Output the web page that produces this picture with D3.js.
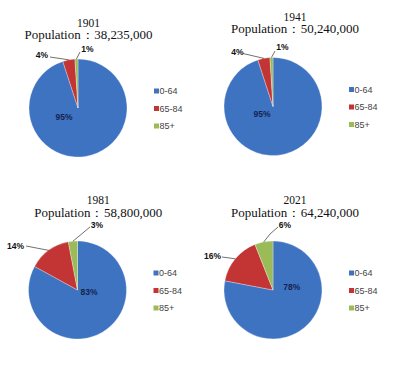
<!DOCTYPE html>
<html>
<head>
<meta charset="utf-8">
<script src="https://cdn.jsdelivr.net/npm/d3@7/dist/d3.min.js"></script>
<style>
  html, body { margin: 0; padding: 0; background: #fff; }
  svg { display: block; }
</style>
</head>
<body>
<svg id="chart" width="394" height="368"></svg>
<script>
// ---- data ----
const years = ["1901", "1941", "1981", "2021"];
const populations = ["38,235,000", "50,240,000", "58,800,000", "64,240,000"];
const ageGroups = ["0-64", "65-84", "85+"];
const share0to64 = [95, 95, 83, 78];
const share65to84 = [4, 4, 14, 16];
const share85plus = [1, 1, 3, 6];

// ---- layout / style ----
const colors = ["#3e73c1", "#c23534", "#9bbb59"];
const radius = 49;
const panels = [
  { cx: 78,    cy: 108,   titleX: 88.5, yearY: 26.5, popY: 39 },
  { cx: 273,   cy: 106.5, titleX: 295,  yearY: 20.5, popY: 33 },
  { cx: 77.5,  cy: 290,   titleX: 98.3, yearY: 204,  popY: 216.5 },
  { cx: 273,   cy: 290,   titleX: 295,  yearY: 203.5,popY: 216.5 }
];
// label placement relative to pie centre: [inner, red, green]
const labelLayout = [
  [ {t:[-14, 9]}, {t:[-36,-53], line:[[-28,-51]]}, {t:[9.5,-59], line:[[2,-56]]} ],
  [ {t:[-11, 7.5]}, {t:[-35.5,-54.5], line:[[-30,-53]]}, {t:[9.5,-59.5], line:[[2,-55.5]]} ],
  [ {t:[11.5, 2]}, {t:[-62,-44], line:[[-51.5,-44]]}, {t:[19.5,-65], line:[[12.5,-63]]} ],
  [ {t:[18.7,-3]}, {t:[-60.5,-34], line:[[-51,-33]]}, {t:[12,-65.3], line:[[-3,-56],[5,-63]]} ]
];

const svg = d3.select("#chart");
svg.append("rect").attr("width", 394).attr("height", 368).attr("fill", "#fff");

const pie = d3.pie().sort(null).value(d => d.value);
const arc = d3.arc().innerRadius(0).outerRadius(radius);
const edgeArc = d3.arc().innerRadius(radius).outerRadius(radius);

years.forEach((year, i) => {
  const p = panels[i];
  const data = ageGroups.map((g, k) => ({
    group: g,
    value: [share0to64, share65to84, share85plus][k][i]
  }));
  const g = svg.append("g");

  // titles
  g.append("text")
    .attr("x", p.titleX).attr("y", p.yearY)
    .attr("text-anchor", "middle")
    .attr("font-family", "'Liberation Serif', 'DejaVu Serif', serif")
    .attr("font-size", 11.5).attr("fill", "#111")
    .text(year);
  g.append("text")
    .attr("x", p.titleX).attr("y", p.popY)
    .attr("text-anchor", "middle")
    .attr("font-family", "'Liberation Serif', 'DejaVu Serif', serif")
    .attr("font-size", 11.5).attr("fill", "#111")
    .attr("textLength", 128).attr("lengthAdjust", "spacingAndGlyphs")
    .text("Population：" + populations[i]);

  // pie
  const pg = g.append("g").attr("transform", `translate(${p.cx},${p.cy})`);
  const arcs = pie(data);
  pg.selectAll("path.slice").data(arcs).join("path")
    .attr("class", "slice")
    .attr("d", arc)
    .attr("fill", (d, k) => colors[k])
    .attr("stroke", "#fff").attr("stroke-width", 0.3);

  // labels
  arcs.forEach((a, k) => {
    const L = labelLayout[i][k];
    if (L.line) {
      const pts = [edgeArc.centroid(a)].concat(L.line);
      pg.append("path")
        .attr("d", d3.line()(pts))
        .attr("fill", "none").attr("stroke", "#333").attr("stroke-width", 0.7);
    }
    pg.append("text")
      .attr("x", L.t[0]).attr("y", L.t[1])
      .attr("text-anchor", "middle")
      .attr("dominant-baseline", "central")
      .attr("font-family", "'Liberation Sans', Arial, sans-serif")
      .attr("font-weight", "bold")
      .attr("font-size", 8.5)
      .attr("fill", k === 0 ? "#14244f" : "#111")
      .text(a.data.value + "%");
  });

  // legend
  const lg = g.append("g").attr("transform", `translate(${p.cx + 76},${p.cy + 0.5})`);
  ageGroups.forEach((name, k) => {
    const y = (k - 1) * 17.5;
    lg.append("rect")
      .attr("x", 0).attr("y", y - 2.5)
      .attr("width", 5).attr("height", 5)
      .attr("fill", colors[k]);
    lg.append("text")
      .attr("x", 5.5).attr("y", y)
      .attr("dominant-baseline", "central")
      .attr("font-family", "'Liberation Sans', Arial, sans-serif")
      .attr("font-size", 9).attr("fill", "#444")
      .text(name);
  });
});
</script>
</body>
</html>
